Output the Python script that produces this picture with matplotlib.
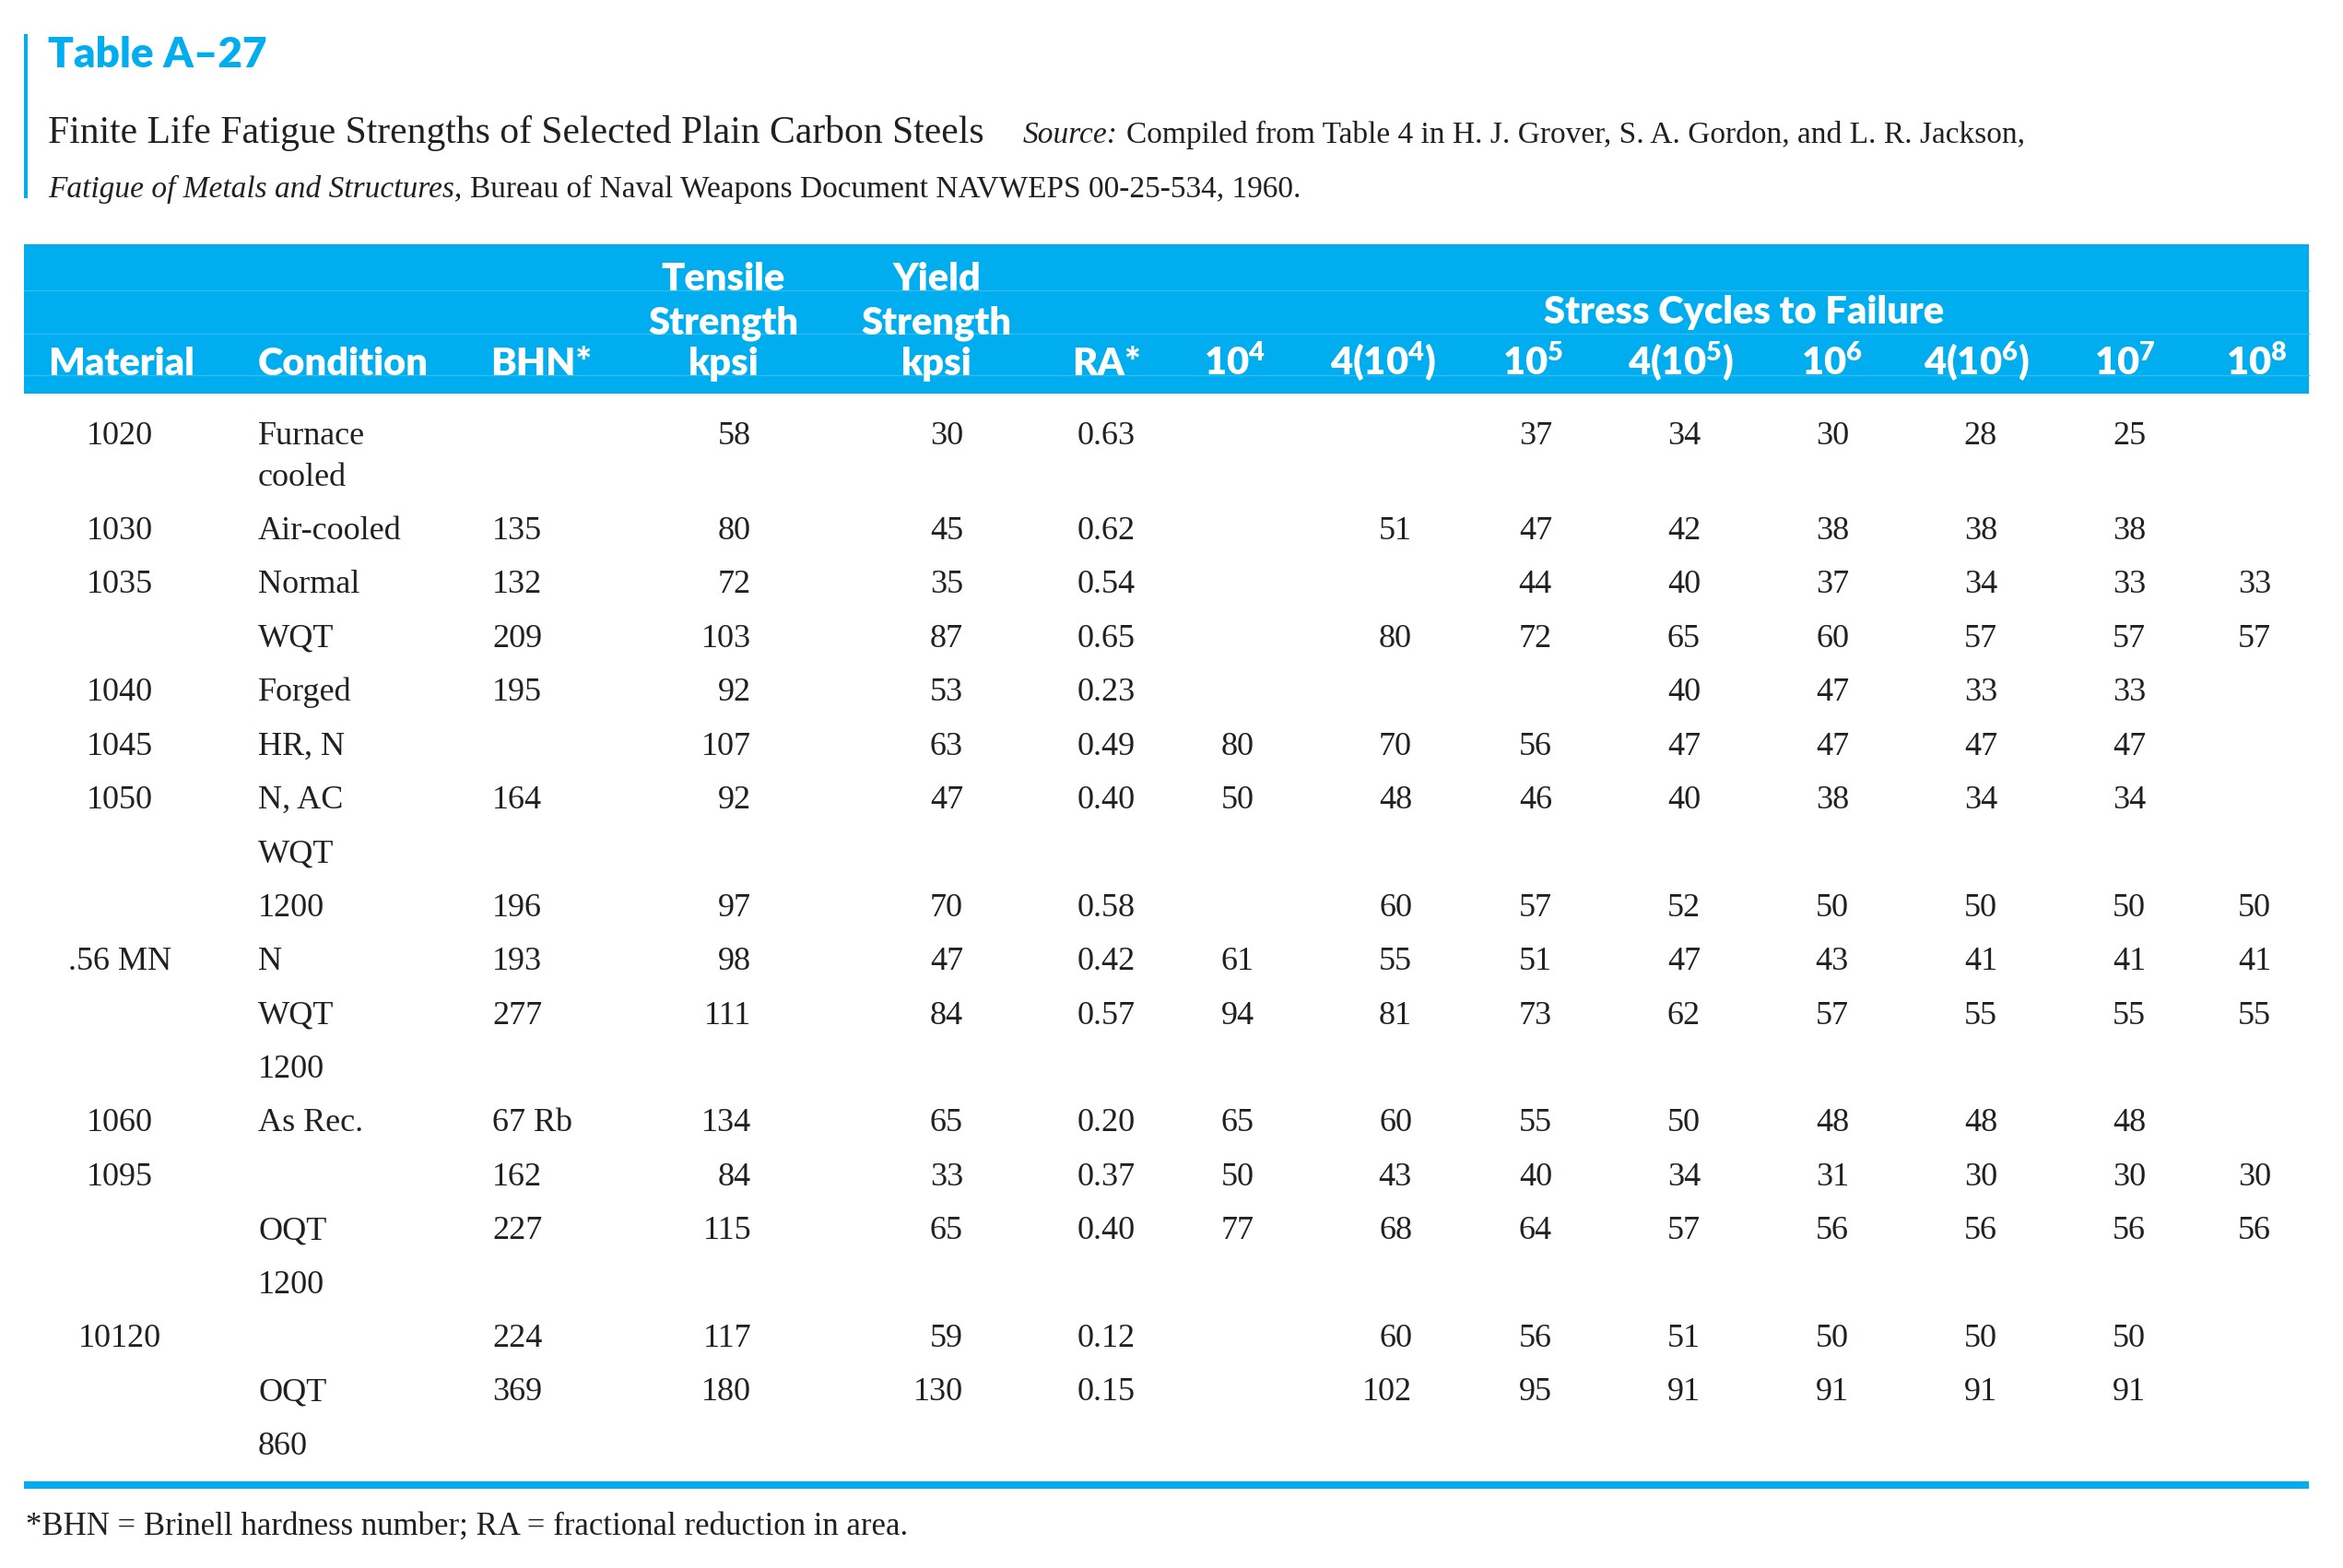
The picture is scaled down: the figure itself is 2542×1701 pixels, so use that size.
import matplotlib
matplotlib.use("Agg")
import matplotlib.pyplot as plt
from matplotlib.patches import Rectangle

plt.rcParams["mathtext.fontset"] = "custom"
plt.rcParams["mathtext.default"] = "regular"

CYAN = "#00AEEF"
SERIF = "Liberation Serif"
SANS = "Lato"

# table contents, one entry per printed line
material = ["1020", "1030", "1035", "", "1040", "1045", "1050", "", "", ".56 MN",
            "", "", "1060", "1095", "", "", "10120", "", ""]
condition = ["Furnace\ncooled", "Air-cooled", "Normal", "WQT", "Forged", "HR, N", "N, AC",
             "WQT", "1200", "N", "WQT", "1200", "As Rec.", "", "OQT", "1200", "", "OQT", "860"]
bhn = ["", "135", "132", "209", "195", "", "164", "", "196", "193", "277", "",
       "67 Rb", "162", "227", "", "224", "369", ""]
tensile = ["58", "80", "72", "103", "92", "107", "92", "", "97", "98", "111", "",
           "134", "84", "115", "", "117", "180", ""]
yield_strength = ["30", "45", "35", "87", "53", "63", "47", "", "70", "47", "84", "",
                  "65", "33", "65", "", "59", "130", ""]
ra = ["0.63", "0.62", "0.54", "0.65", "0.23", "0.49", "0.40", "", "0.58", "0.42", "0.57", "",
      "0.20", "0.37", "0.40", "", "0.12", "0.15", ""]
cyc_1e4 = ["", "", "", "", "", "80", "50", "", "", "61", "94", "", "65", "50", "77", "", "", "", ""]
cyc_4e4 = ["", "51", "", "80", "", "70", "48", "", "60", "55", "81", "", "60", "43", "68", "", "60", "102", ""]
cyc_1e5 = ["37", "47", "44", "72", "", "56", "46", "", "57", "51", "73", "", "55", "40", "64", "", "56", "95", ""]
cyc_4e5 = ["34", "42", "40", "65", "40", "47", "40", "", "52", "47", "62", "", "50", "34", "57", "", "51", "91", ""]
cyc_1e6 = ["30", "38", "37", "60", "47", "47", "38", "", "50", "43", "57", "", "48", "31", "56", "", "50", "91", ""]
cyc_4e6 = ["28", "38", "34", "57", "33", "47", "34", "", "50", "41", "55", "", "48", "30", "56", "", "50", "91", ""]
cyc_1e7 = ["25", "38", "33", "57", "33", "47", "34", "", "50", "41", "55", "", "48", "30", "56", "", "50", "91", ""]
cyc_1e8 = ["", "", "33", "57", "", "", "", "", "50", "41", "55", "", "", "30", "56", "", "", "", ""]

cycle_labels = ["10$^4$", "4(10$^4$)", "10$^5$", "4(10$^5$)", "10$^6$", "4(10$^6$)", "10$^7$", "10$^8$"]

fig = plt.figure(figsize=(25.42, 17.01), dpi=100)
ax = fig.add_axes([0, 0, 1, 1])
ax.set_xlim(0, 2542)
ax.set_ylim(1701, 0)
ax.axis("off")
renderer = fig.canvas.get_renderer()


def draw_runs(x, y, runs):
    # runs: (text, size, style, gap after)
    for txt, size, style, gap in runs:
        t = ax.text(x, y, txt, fontsize=size, style=style, family=SERIF,
                    va="baseline", ha="left", color="#231f20")
        bb = t.get_window_extent(renderer)
        x = ax.transData.inverted().transform((bb.x1, bb.y0))[0] + gap


# title block
ax.add_patch(Rectangle((26, 37), 4, 178, color=CYAN, lw=0))
ax.text(52, 73, "Table A–27", fontsize=33, fontweight="heavy", family=SANS,
        color=CYAN, va="baseline")
draw_runs(52, 155, [
    ("Finite Life Fatigue Strengths of Selected Plain Carbon Steels", 30, "normal", 42),
    ("Source:", 24, "italic", 9),
    ("Compiled from Table 4 in H. J. Grover, S. A. Gordon, and L. R. Jackson,", 24, "normal", 0),
])
draw_runs(52, 214, [
    ("Fatigue of Metals and Structures,", 24, "italic", 9),
    ("Bureau of Naval Weapons Document NAVWEPS 00-25-534, 1960.", 24, "normal", 0),
])

# header band
ax.add_patch(Rectangle((26, 265), 2479, 162, color=CYAN, lw=0))
for yl in (315, 362, 407):
    ax.plot([26, 2505], [yl, yl], color="#2dbdf2", lw=1)

hdr = dict(fontsize=30, fontweight="heavy", family=SANS, color="white", va="baseline")
ax.text(52, 407, "Material", ha="left", **hdr)
ax.text(280, 407, "Condition", ha="left", **hdr)
ax.text(532, 407, "BHN*", ha="left", **hdr)
for xc, word in ((785, "Tensile"), (1016, "Yield")):
    ax.text(xc, 315, word, ha="center", **hdr)
    ax.text(xc, 362, "Strength", ha="center", **hdr)
    ax.text(xc, 407, "kpsi", ha="center", **hdr)
ax.text(1201, 407, "RA*", ha="center", **hdr)
ax.text(1892, 351, "Stress Cycles to Failure", ha="center", **hdr)
cycle_centers = [1339, 1501, 1663, 1824, 1987, 2145, 2305, 2448]
for xc, lab in zip(cycle_centers, cycle_labels):
    ax.text(xc, 407, lab, ha="center", **hdr)

# body
columns = [
    (material, 130, "center"),
    (condition, 280, "left"),
    (bhn, 534, "left"),
    (tensile, 815, "right"),
    (yield_strength, 1045, "right"),
    (ra, 1232, "right"),
    (cyc_1e4, 1361, "right"),
    (cyc_4e4, 1532, "right"),
    (cyc_1e5, 1684, "right"),
    (cyc_4e5, 1845, "right"),
    (cyc_1e6, 2006, "right"),
    (cyc_4e6, 2167, "right"),
    (cyc_1e7, 2328, "right"),
    (cyc_1e8, 2464, "right"),
]
baselines = [482] + [585 + 58.4 * k for k in range(len(material) - 1)]
for values, xpos, ha in columns:
    for yb, val in zip(baselines, values):
        for j, part in enumerate(val.split("\n")):
            ax.text(xpos, yb + 45 * j, part, fontsize=26, family=SERIF, ha=ha,
                    va="baseline", color="#231f20")

ax.add_patch(Rectangle((26, 1607), 2479, 8, color=CYAN, lw=0))
ax.text(28, 1665, "*BHN = Brinell hardness number; RA = fractional reduction in area.",
        fontsize=25, family=SERIF, va="baseline", color="#231f20")

fig.savefig("out.png", dpi=100)
